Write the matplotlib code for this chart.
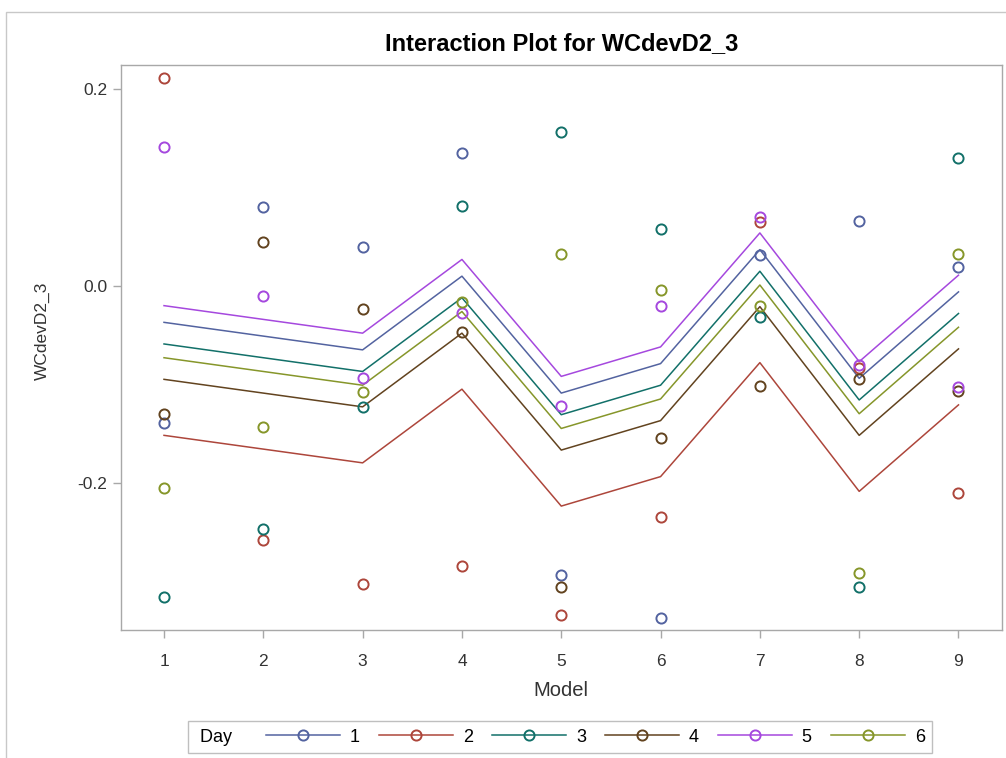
import matplotlib
matplotlib.use("Agg")
import matplotlib.pyplot as plt
from matplotlib.patches import Rectangle

plt.rcParams['font.family'] = ['Liberation Sans', 'DejaVu Sans']

# ---------------- data ----------------
models = [1, 2, 3, 4, 5, 6, 7, 8, 9]
day_labels = ['1', '2', '3', '4', '5', '6']
day_colors = ['#5363a0', '#ad463b', '#127069', '#62431f', '#a548de', '#86962a']

# observed values (circles), one list per Day, ordered by Model 1..9
obs_day1 = [-0.139, 0.080, 0.040, 0.135, -0.2945, -0.338, 0.032, 0.066, 0.019]
obs_day2 = [0.212, -0.259, -0.303, -0.285, -0.335, -0.235, 0.065, -0.083, -0.211]
obs_day3 = [-0.317, -0.247, -0.123, 0.081, 0.157, 0.058, -0.032, -0.306, 0.130]
obs_day4 = [-0.130, 0.0445, -0.023, -0.0465, -0.306, -0.155, -0.102, -0.095, -0.1065]
obs_day5 = [0.141, -0.010, -0.094, -0.027, -0.122, -0.020, 0.070, -0.080, -0.103]
obs_day6 = [-0.206, -0.143, -0.108, -0.016, 0.033, -0.004, -0.020, -0.292, 0.033]

# fitted values (lines), one list per Day, ordered by Model 1..9
fit_day1 = [-0.037, -0.051, -0.065, 0.010, -0.109, -0.079, 0.037, -0.094, -0.006]
fit_day2 = [-0.152, -0.166, -0.180, -0.105, -0.224, -0.194, -0.078, -0.209, -0.121]
fit_day3 = [-0.059, -0.073, -0.087, -0.012, -0.131, -0.101, 0.015, -0.116, -0.028]
fit_day4 = [-0.095, -0.109, -0.123, -0.048, -0.167, -0.137, -0.021, -0.152, -0.064]
fit_day5 = [-0.020, -0.034, -0.048, 0.027, -0.092, -0.062, 0.054, -0.077, 0.011]
fit_day6 = [-0.073, -0.087, -0.101, -0.026, -0.145, -0.115, 0.001, -0.130, -0.042]

yticks = [-0.2, 0.0, 0.2]
ytick_labels = ['-0.2', '0.0', '0.2']

obs_all = [obs_day1, obs_day2, obs_day3, obs_day4, obs_day5, obs_day6]
fit_all = [fit_day1, fit_day2, fit_day3, fit_day4, fit_day5, fit_day6]

# ---------------- figure ----------------
W, H = 1006, 758
fig = plt.figure(figsize=(W / 100, H / 100), dpi=100)
fig.patch.set_facecolor('white')

# outer frame (image is cropped from a larger bordered graph)
fig.patches.append(Rectangle((6 / W, -0.05), 1.2, 1 - 12 / H + 0.05,
                             transform=fig.transFigure, fill=False,
                             edgecolor='#c8c8c8', linewidth=1.0))

ax_l, ax_r, ax_t, ax_b = 121, 1001.5, 65, 630
ax = fig.add_axes([ax_l / W, 1 - ax_b / H, (ax_r - ax_l) / W, (ax_b - ax_t) / H])

handles = []
for lab, col, fit, obs in zip(day_labels, day_colors, fit_all, obs_all):
    ax.plot(models, fit, color=col, linewidth=1.1, zorder=2)
    ax.plot(models, obs, linestyle='none', marker='o', markersize=7.3,
            markerfacecolor='none', markeredgecolor=col, markeredgewidth=1.4,
            zorder=3)
    h, = ax.plot([], [], color=col, linewidth=1.1, marker='o', markersize=7.3,
                 markerfacecolor='none', markeredgecolor=col, markeredgewidth=1.4)
    handles.append(h)

ax.set_xlim(0.567, 9.433)
ax.set_ylim(-0.3501, 0.2249)
ax.set_xticks(models)
ax.set_xticklabels([str(m) for m in models])
ax.set_yticks(yticks)
ax.set_yticklabels(ytick_labels)

for s in ax.spines.values():
    s.set_color('#a8a8a8')
    s.set_linewidth(1.0)
ax.tick_params(axis='both', colors='#a8a8a8', labelcolor='#333333',
               length=6, width=1.0, labelsize=12.5)
ax.tick_params(axis='x', pad=11)
ax.tick_params(axis='y', pad=4)

ax.set_xlabel('Model', fontsize=14.5, color='#333333', labelpad=9)
ax.set_ylabel('WCdevD2_3', fontsize=12.5, color='#333333')
ax.yaxis.set_label_coords(-0.081, 0.53)

ax.set_title('Interaction Plot for WCdevD2_3', fontsize=17, fontweight='bold',
             color='black', pad=11)

leg = fig.legend(handles, day_labels, title=' Day   ', ncol=6,
                 loc='center', bbox_to_anchor=(560 / W, 1 - 737 / H),
                 fontsize=13, title_fontsize=13, frameon=True, fancybox=False,
                 edgecolor='#b0b0b0', handlelength=4.1, handletextpad=0.55,
                 columnspacing=1.05, borderpad=0.42, numpoints=1)
leg.get_frame().set_linewidth(1.0)
# put the title to the left of the entries
c = leg.get_children()[0]
title_box = c.get_children()[0]
hpack = c.get_children()[1]
c._children = [hpack]
hpack._children = [title_box] + hpack.get_children()

fig.savefig('out.png', dpi=100, facecolor='white')
